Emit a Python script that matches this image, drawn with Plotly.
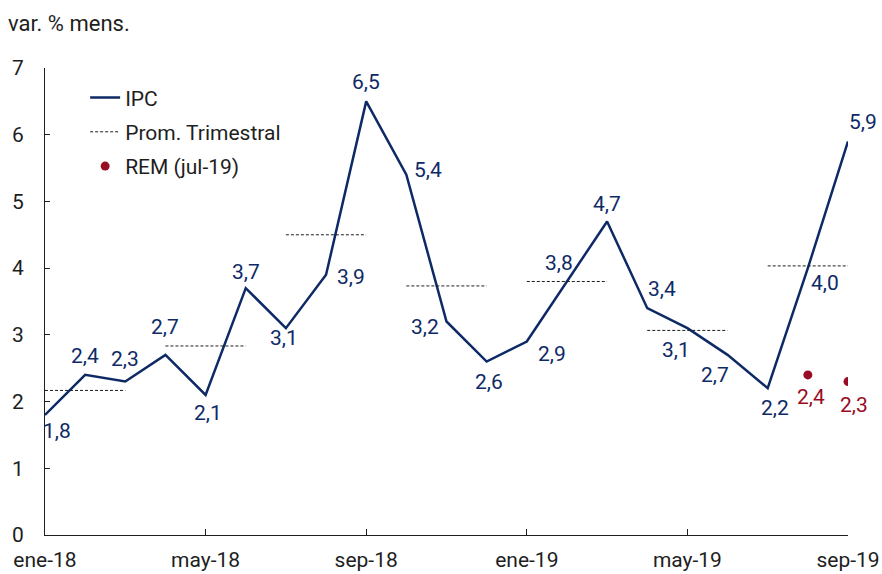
import plotly.graph_objects as go

# Monthly CPI variation (% m/m)
months = ["ene-18", "feb-18", "mar-18", "abr-18", "may-18", "jun-18", "jul-18",
          "ago-18", "sep-18", "oct-18", "nov-18", "dic-18", "ene-19", "feb-19",
          "mar-19", "abr-19", "may-19", "jun-19", "jul-19", "ago-19", "sep-19"]
ipc = [1.8, 2.4, 2.3, 2.7, 2.1, 3.7, 3.1, 3.9, 6.5, 5.4, 3.2, 2.6, 2.9, 3.8,
       4.7, 3.4, 3.1, 2.7, 2.2, 4.0, 5.9]

# Market expectations survey (REM, jul-19)
rem_months = ["ago-19", "sep-19"]
rem = [2.4, 2.3]

tick_labels = ["ene-18", "may-18", "sep-18", "ene-19", "may-19", "sep-19"]

NAVY = "#0e2a66"
RED = "#980c24"
INK = "#1e1e1e"
FONT = "Roboto, Arial, sans-serif"
FS = 22

idx = {m: i for i, m in enumerate(months)}
x_ipc = list(range(len(months)))
x_rem = [idx[m] for m in rem_months]

# Quarterly averages drawn across the three months of each quarter
qx, qy = [], []
for q in range(len(ipc) // 3):
    vals = ipc[q * 3:q * 3 + 3]
    avg = sum(vals) / 3
    qx += [q * 3, q * 3 + 2, None]
    qy += [avg, avg, None]

fig = go.Figure()
fig.add_trace(go.Scatter(x=x_ipc, y=ipc, mode="lines", name="IPC", legendgroup="a",
                         line=dict(color=NAVY, width=2.5)))
fig.add_trace(go.Scatter(x=qx, y=qy, mode="lines", name="Prom. Trimestral", legendgroup="b",
                         line=dict(color=INK, width=1, dash="3px,2px")))
fig.add_trace(go.Scatter(x=x_rem, y=rem, mode="markers", name="REM (jul-19)", legendgroup="c",
                         marker=dict(color=RED, size=9)))

# Label offsets (px) relative to each point
ipc_offsets = [(12, -16), (0, 19), (0, 23), (0, 28), (2, -18), (0, 16), (-2, -10),
               (25, -2), (0, 19), (22, 5), (-22, -5), (2, -20), (25, -12), (-8, 18),
               (0, 17), (15, 19), (-11, -22), (-13, -20), (7, -20), (17, -15), (15, 19)]
rem_offsets = [(3, -22), (6, -23)]

def fmt(v):
    return f"{v:.1f}".replace(".", ",")

for x, v, (dx, dy) in zip(x_ipc, ipc, ipc_offsets):
    fig.add_annotation(x=x, y=v, text=fmt(v), showarrow=False, xshift=dx, yshift=dy,
                       font=dict(family=FONT, size=FS - 1, color=NAVY))
for x, v, (dx, dy) in zip(x_rem, rem, rem_offsets):
    fig.add_annotation(x=x, y=v, text=fmt(v), showarrow=False, xshift=dx, yshift=dy,
                       font=dict(family=FONT, size=FS - 1, color=RED))

fig.add_annotation(xref="paper", yref="paper", x=-0.048, y=1.065, xanchor="left",
                   yanchor="bottom", text="var. % mens.", showarrow=False,
                   font=dict(family=FONT, size=FS, color=INK))

fig.update_layout(
    width=882, height=574,
    margin=dict(l=45, r=34, t=68, b=39),
    plot_bgcolor="white", paper_bgcolor="white",
    font=dict(family=FONT, size=FS, color=INK),
    showlegend=True,
    legend=dict(x=0.05, y=0.98, xanchor="left", yanchor="top",
                bgcolor="rgba(0,0,0,0)", font=dict(family=FONT, size=FS - 1, color=INK),
                itemwidth=30, tracegroupgap=4),
    xaxis=dict(range=[0, 20], tickvals=[idx[t] for t in tick_labels], ticktext=tick_labels,
               showgrid=False, zeroline=False, showline=True, linecolor=INK,
               linewidth=1, ticks="inside", ticklen=6, tickcolor=INK, automargin=False,
               ticklabelstandoff=6,
               tickfont=dict(family=FONT, size=FS - 1, color=INK)),
    yaxis=dict(range=[0, 7], dtick=1, showgrid=False, zeroline=False, showline=True,
               linecolor=INK, linewidth=1, ticks="inside", ticklen=5, automargin=False,
               tickcolor=INK, tickfont=dict(family=FONT, size=FS - 1, color=INK),
               ticklabelstandoff=16),
)

fig.write_html("out.html")
